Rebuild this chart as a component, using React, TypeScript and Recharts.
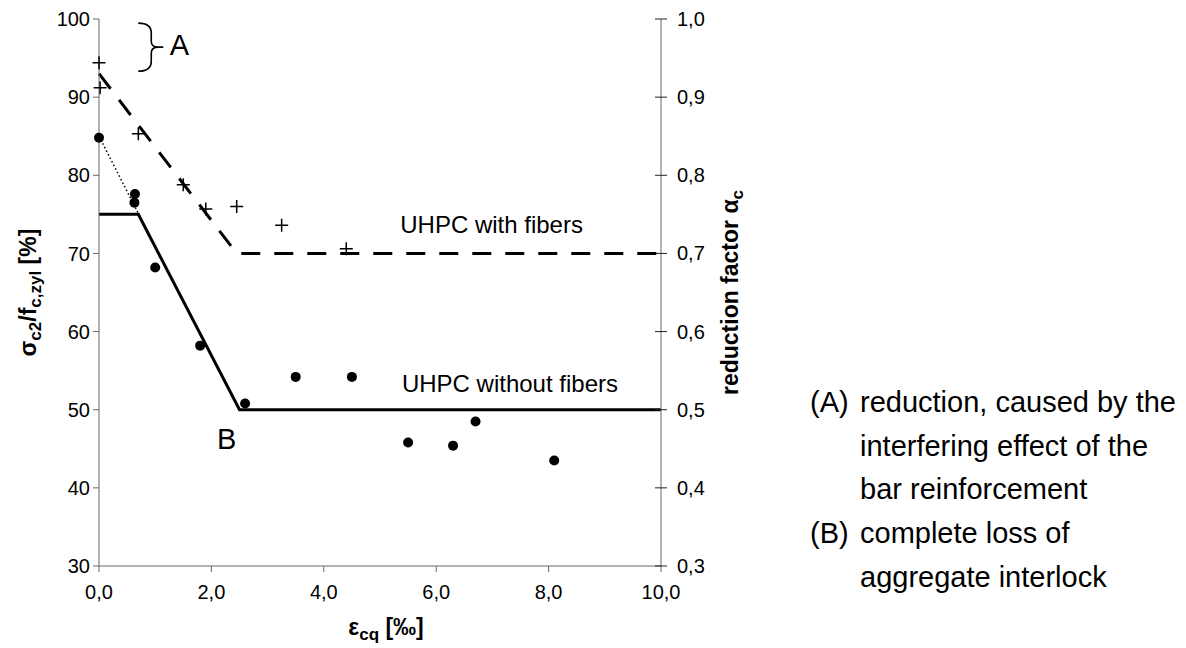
import React from 'react';
import { ComposedChart, Line, Scatter, XAxis, YAxis, ReferenceDot } from 'recharts';

// axis ticks
const strainTicks = [0, 2, 4, 6, 8, 10];
const ratioTicks = [30, 40, 50, 60, 70, 80, 90, 100];
const alphaTicks = [0.3, 0.4, 0.5, 0.6, 0.7, 0.8, 0.9, 1.0];

// test results, UHPC without fibers (dots)
const plainStrain = [0, 0.63, 0.64, 1.0, 1.8, 2.6, 3.5, 4.5, 5.5, 6.3, 6.7, 8.1];
const plainRatio = [84.8, 76.5, 77.6, 68.2, 58.2, 50.8, 54.2, 54.2, 45.8, 45.4, 48.5, 43.5];

// test results, UHPC with fibers (crosses)
const fiberStrain = [0, 0.02, 0.7, 1.5, 1.9, 2.45, 3.25, 4.4];
const fiberRatio = [94.4, 91.2, 85.3, 78.8, 75.7, 76.0, 73.6, 70.6];

// design curves
const plainCurveStrain = [0, 0.7, 2.5, 10];
const plainCurveRatio = [75, 75, 50, 50];
const fiberCurveStrain = [0, 2.45, 10];
const fiberCurveRatio = [93, 70, 70];
const lossStrain = [0, 0.85];
const lossRatio = [85, 73];

const notes = [
  { tag: '(A)', lines: ['reduction, caused by the', 'interfering effect of the', 'bar reinforcement'] },
  { tag: '(B)', lines: ['complete loss of', 'aggregate interlock'] },
];

const zip = (xs: number[], ys: number[]) => xs.map((x, i) => ({ x, y: ys[i] }));

const FONT = '"Liberation Sans", Arial, sans-serif';
const comma = (v: number, d: number) => v.toFixed(d).replace('.', ',');

const Dot = (p: any) => <circle cx={p.cx} cy={p.cy} r={5} fill="#000" />;
const Cross = (p: any) => (
  <path d={`M${p.cx - 6.5},${p.cy}H${p.cx + 6.5}M${p.cx},${p.cy - 6.5}V${p.cy + 6.5}`} stroke="#000" strokeWidth={1.5} />
);

const RightTick = (p: any) => {
  const ax = p.x - 16;
  return (
    <g>
      <line x1={ax - 6} x2={ax + 6} y1={p.y} y2={p.y} stroke="#222" strokeWidth={1} />
      <text x={p.x} y={p.y} dy={7} fontSize={20} fontFamily={FONT} fill="#000">
        {comma(p.payload.value, 1)}
      </text>
    </g>
  );
};

const textAt = (value: string, size: number) => (p: any) => (
  <text x={p.cx} y={p.cy} fontSize={size} fontFamily={FONT} fill="#000">
    {value}
  </text>
);

const Brace = (p: any) => {
  const x = p.cx;
  const y = p.cy;
  return (
    <path
      d={`M${x - 13},${y - 24}Q${x},${y - 24} ${x},${y - 14}L${x},${y - 6}Q${x},${y} ${x + 7},${y}Q${x},${y} ${x},${y + 6}L${x},${y + 14}Q${x},${y + 24} ${x - 13},${y + 24}M${x + 7},${y}H${x + 12}`}
      fill="none"
      stroke="#000"
      strokeWidth={1.6}
    />
  );
};

export default function App() {
  return (
    <div style={{ position: 'absolute', left: 0, top: 0, width: 1186, height: 648, background: '#fff' }}>
      <ComposedChart width={1186} height={648} margin={{ top: 19, right: 435, bottom: 32, left: 19 }}>
        <XAxis
          type="number"
          dataKey="x"
          domain={[0, 10]}
          ticks={strainTicks}
          tickFormatter={(v: number) => comma(v, 1)}
          height={50}
          tickSize={6}
          tickMargin={13}
          stroke="#666"
          tick={{ fill: '#000', fontSize: 20, fontFamily: FONT }}
          label={{
            content: (p: any) => {
              const vb = p.viewBox;
              return (
                <text x={vb.x + vb.width / 2 + 6} y={vb.y + 69} textAnchor="middle" fontFamily={FONT} fontWeight="bold" fontSize={23} fill="#000">
                  ε<tspan fontSize={17} dy={5}>cq</tspan>
                  <tspan dy={-5}> [‰]</tspan>
                </text>
              );
            },
          }}
        />
        <YAxis
          yAxisId="left"
          type="number"
          domain={[30, 100]}
          ticks={ratioTicks}
          width={80}
          tickSize={6}
          tickMargin={3}
          stroke="#666"
          tick={{ fill: '#000', fontSize: 20, fontFamily: FONT }}
          label={{
            content: (p: any) => {
              const vb = p.viewBox;
              const cx = vb.x + 17;
              const cy = vb.y + vb.height / 2;
              return (
                <text x={cx} y={cy} transform={`rotate(-90 ${cx} ${cy})`} textAnchor="middle" fontFamily={FONT} fontWeight="bold" fontSize={23} fill="#000">
                  σ<tspan fontSize={17} dy={5}>c2</tspan>
                  <tspan dy={-5}>/f</tspan>
                  <tspan fontSize={17} dy={5}>c,zyl</tspan>
                  <tspan dy={-5}> [%]</tspan>
                </text>
              );
            },
          }}
        />
        <YAxis
          yAxisId="right"
          orientation="right"
          type="number"
          domain={[0.3, 1.0]}
          ticks={alphaTicks}
          allowDataOverflow
          width={90}
          tickSize={6}
          tickMargin={10}
          tickLine={false}
          stroke="#666"
          tick={<RightTick />}
          label={{
            content: (p: any) => {
              const vb = p.viewBox;
              const cx = vb.x + 77;
              const cy = vb.y + vb.height / 2;
              return (
                <text x={cx} y={cy} transform={`rotate(-90 ${cx} ${cy})`} textAnchor="middle" fontFamily={FONT} fontWeight="bold" fontSize={23} fill="#000">
                  reduction factor α<tspan fontSize={17} dy={5}>c</tspan>
                </text>
              );
            },
          }}
        />

        <Line yAxisId="left" data={zip(lossStrain, lossRatio)} dataKey="y" type="linear" stroke="#000" strokeWidth={1.5} strokeDasharray="1.5 2.5" dot={false} isAnimationActive={false} />
        <Line yAxisId="left" data={zip(plainCurveStrain, plainCurveRatio)} dataKey="y" type="linear" stroke="#000" strokeWidth={3} dot={false} isAnimationActive={false} />
        <Line yAxisId="left" data={zip(fiberCurveStrain, fiberCurveRatio)} dataKey="y" type="linear" stroke="#000" strokeWidth={3} strokeDasharray="19 14" dot={false} isAnimationActive={false} />
        <Scatter yAxisId="left" data={zip(plainStrain, plainRatio)} dataKey="y" shape={<Dot />} isAnimationActive={false} />
        <Scatter yAxisId="left" data={zip(fiberStrain, fiberRatio)} dataKey="y" shape={<Cross />} isAnimationActive={false} />

        <ReferenceDot yAxisId="left" x={0.93} y={96.4} r={0} shape={<Brace />} />
        <ReferenceDot yAxisId="left" x={1.26} y={95.4} r={0} shape={textAt('A', 29)} />
        <ReferenceDot yAxisId="left" x={2.1} y={45.0} r={0} shape={textAt('B', 29)} />
        <ReferenceDot yAxisId="left" x={5.36} y={72.6} r={0} shape={textAt('UHPC with fibers', 24)} />
        <ReferenceDot yAxisId="left" x={5.39} y={52.3} r={0} shape={textAt('UHPC without fibers', 24)} />
      </ComposedChart>
      <svg width={1186} height={648} style={{ position: 'absolute', left: 0, top: 0, pointerEvents: 'none' }}>
        {(() => {
          let row = 0;
          return notes.map((n) =>
            n.lines.map((line, i) => {
              const y = 412 + 43.7 * row++;
              return (
                <g key={n.tag + i}>
                  {i === 0 && (
                    <text x={810} y={y} fontSize={29} fontFamily={FONT} fill="#000">
                      {n.tag}
                    </text>
                  )}
                  <text x={860} y={y} fontSize={29} fontFamily={FONT} fill="#000">
                    {line}
                  </text>
                </g>
              );
            })
          );
        })()}
      </svg>
    </div>
  );
}
